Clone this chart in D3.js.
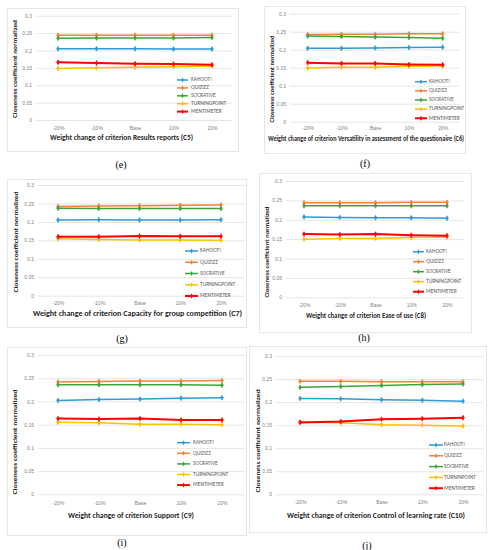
<!DOCTYPE html>
<html>
<head>
<meta charset="utf-8">
<script src="https://cdn.jsdelivr.net/npm/d3@7"></script>
<style>
  body { margin: 0; background: #fff; }
</style>
</head>
<body>
<script>
var categories = ["-20%", "-10%", "Base", "10%", "20%"];
var seriesNames = ["KAHOOT!", "QUIZIZZ", "SOCRATIVE", "TURNINGPOINT", "MENTIMETER"];
var seriesNamesJ = ["KAHOOT!", "QUIZIZZ", "SOCRATIVE", "TURNINPOINT", "MENTIMETER"];
var yTicks = [0, 0.05, 0.1, 0.15, 0.2, 0.25, 0.3];
var yTickLabels = ["0", "0.05", "0.1", "0.15", "0.2", "0.25", "0.3"];

// one row per series: KAHOOT!, QUIZIZZ, SOCRATIVE, TURNINGPOINT, MENTIMETER
var valuesC5 = [
  [0.205, 0.205, 0.205, 0.204, 0.204],
  [0.244, 0.244, 0.244, 0.244, 0.244],
  [0.235, 0.236, 0.236, 0.236, 0.237],
  [0.148, 0.150, 0.152, 0.153, 0.155],
  [0.166, 0.164, 0.162, 0.161, 0.159]
];
var valuesC6 = [
  [0.204, 0.204, 0.205, 0.206, 0.207],
  [0.242, 0.243, 0.243, 0.244, 0.244],
  [0.238, 0.237, 0.235, 0.234, 0.232],
  [0.149, 0.151, 0.151, 0.154, 0.155],
  [0.164, 0.162, 0.162, 0.159, 0.158]
];
var valuesC7 = [
  [0.205, 0.206, 0.205, 0.205, 0.206],
  [0.242, 0.243, 0.244, 0.245, 0.246],
  [0.237, 0.236, 0.236, 0.236, 0.236],
  [0.154, 0.152, 0.151, 0.151, 0.150],
  [0.160, 0.160, 0.162, 0.161, 0.161]
];
var valuesC8 = [
  [0.207, 0.206, 0.205, 0.205, 0.204],
  [0.244, 0.244, 0.244, 0.245, 0.245],
  [0.236, 0.236, 0.236, 0.236, 0.236],
  [0.150, 0.152, 0.152, 0.154, 0.155],
  [0.163, 0.162, 0.163, 0.160, 0.159]
];
var valuesC9 = [
  [0.202, 0.204, 0.205, 0.207, 0.208],
  [0.242, 0.243, 0.244, 0.244, 0.245],
  [0.236, 0.236, 0.236, 0.236, 0.235],
  [0.155, 0.154, 0.151, 0.151, 0.150],
  [0.163, 0.162, 0.163, 0.160, 0.160]
];
var valuesC10 = [
  [0.208, 0.207, 0.205, 0.204, 0.202],
  [0.245, 0.245, 0.244, 0.244, 0.244],
  [0.232, 0.234, 0.236, 0.238, 0.239],
  [0.157, 0.155, 0.151, 0.150, 0.148],
  [0.156, 0.158, 0.163, 0.164, 0.166]
];

var xTitles = [
  "Weight change of criterion  Results reports (C5)",
  "Weight change of criterion  Versatility  in assessment of the questionaire (C6)",
  "Weight change of criterion  Capacity for group competition (C7)",
  "Weight change of criterion  Ease of use (C8)",
  "Weight change of criterion  Support (C9)",
  "Weight change of criterion  Control of learning rate (C10)"
];
var captions = ["(e)", "(f)", "(g)", "(h)", "(i)", "(j)"];
var yTitle = "Closeness coefficient normalized";

var colors = ["#2e9bd6", "#f4823c", "#3ca53a", "#ffc000", "#ff0000"];

var w = 492, h = 550;

// layout of each panel (pixel positions)
var layout = [
  {box: [7, 8, 238, 151], pts: [58, 212], grid: [36, 232], y0: 120, y3: 15.7, xl: 128, xt: 138, xtc: 121.5, xtw: 143,
   yt: [15, 69, 98], leg: [177, 188, 191, 80, 7.9], cap: [121, 168], names: seriesNames, values: valuesC5},
  {box: [264, 6, 465, 153], pts: [307.7, 442.7], grid: [290, 460], y0: 121.7, y3: 13.7, xl: 128, xt: 139.5, xtc: 366, xtw: 196,
   yt: [272, 79, 87], leg: [415, 427, 429, 81.7, 9.15], cap: [365, 167], names: seriesNames, values: valuesC6},
  {box: [7, 179, 246, 327], pts: [58, 221], grid: [38, 245], y0: 295.7, y3: 185, xl: 303, xt: 314.5, xtc: 137.5, xtw: 209,
   yt: [16, 242, 101], leg: [185, 198, 200, 251, 11.25], cap: [122, 342], names: seriesNames, values: valuesC7},
  {box: [259, 173, 471, 332], pts: [304, 447], grid: [286, 464], y0: 297.3, y3: 181, xl: 305, xt: 316.5, xtc: 366, xtw: 120,
   yt: [267, 252, 91], leg: [413, 424, 426, 251.7, 10], cap: [364, 341], names: seriesNames, values: valuesC8},
  {box: [7, 347, 246, 535], pts: [58, 222], grid: [38, 245], y0: 494.3, y3: 355, xl: 503, xt: 516, xtc: 131, xtw: 126,
   yt: [15, 442, 105], leg: [177, 190, 193, 442.7, 10.6], cap: [122, 546], names: seriesNames, values: valuesC9},
  {box: [249, 346, 486, 532], pts: [300, 463], grid: [276, 483], y0: 494.3, y3: 356, xl: 502, xt: 516, xtc: 376, xtw: 178,
   yt: [258, 441, 103], leg: [429, 443, 444, 445, 10.8], cap: [367, 549], names: seriesNamesJ, values: valuesC10}
];

var svg = d3.select("body")
    .append("svg")
    .attr("width", w)
    .attr("height", h)
    .style("font-family", "Calibri, 'Liberation Sans', Arial, sans-serif");

layout.forEach(function(p, k) {
  var g = svg.append("g").attr("class", "panel");

  // chart frame
  g.append("rect")
      .attr("x", p.box[0] + 0.5)
      .attr("y", p.box[1] + 0.5)
      .attr("width", p.box[2] - p.box[0])
      .attr("height", p.box[3] - p.box[1])
      .attr("fill", "#fff")
      .attr("stroke", "#e6e6e6")
      .attr("stroke-width", 1);

  var x = d3.scalePoint()
      .domain(categories)
      .range(p.pts);

  var y = d3.scaleLinear()
      .domain([0, 0.3])
      .range([p.y0, p.y3]);

  // y axis with gridlines
  var yAxis = g.append("g")
      .attr("transform", "translate(" + p.grid[0] + ",0)")
      .call(d3.axisLeft(y)
        .tickValues(yTicks)
        .tickFormat(function(d, i) { return yTickLabels[i]; })
        .tickSize(-(p.grid[1] - p.grid[0]))
        .tickPadding(4));
  yAxis.select(".domain").remove();
  yAxis.selectAll(".tick line").attr("stroke", "#dedede").attr("stroke-width", 0.8);
  yAxis.selectAll(".tick text")
      .attr("fill", "#7f7f7f")
      .style("font-size", "5px");

  // x axis labels
  var xAxis = g.append("g")
      .attr("transform", "translate(0," + (p.xl - 2) + ")")
      .call(d3.axisBottom(x).tickSize(0).tickPadding(0));
  xAxis.select(".domain").remove();
  xAxis.selectAll(".tick text")
      .attr("fill", "#7f7f7f")
      .style("font-size", "5px");

  // axis titles
  g.append("text")
      .attr("x", p.xtc)
      .attr("y", p.xt)
      .attr("text-anchor", "middle")
      .attr("dominant-baseline", "middle")
      .attr("textLength", p.xtw)
      .attr("lengthAdjust", "spacingAndGlyphs")
      .attr("font-weight", "bold")
      .attr("fill", "#262626")
      .style("font-size", "7px")
      .text(xTitles[k]);

  g.append("text")
      .attr("transform", "translate(" + p.yt[0] + "," + p.yt[1] + ") rotate(-90)")
      .attr("text-anchor", "middle")
      .attr("dominant-baseline", "middle")
      .attr("textLength", p.yt[2])
      .attr("lengthAdjust", "spacingAndGlyphs")
      .attr("font-weight", "bold")
      .attr("fill", "#262626")
      .style("font-size", "6.5px")
      .text(yTitle);

  // series lines
  var line = d3.line()
      .x(function(d, i) { return x(categories[i]); })
      .y(function(d) { return y(d); });

  var sym = d3.symbol().type(d3.symbolDiamond).size(7);

  var series = g.selectAll(".series")
      .data(p.values)
      .enter()
      .append("g")
      .attr("class", "series");

  series.append("path")
      .attr("d", line)
      .attr("fill", "none")
      .attr("stroke", function(d, i) { return colors[i]; })
      .attr("stroke-width", function(d, i) { return i === 4 ? 2 : 1.5; });

  series.selectAll(".pt")
      .data(function(d, i) { return d.map(function(v, j) { return {v: v, j: j, s: i}; }); })
      .enter()
      .append("path")
      .attr("class", "pt")
      .attr("d", sym)
      .attr("transform", function(d) { return "translate(" + x(categories[d.j]) + "," + y(d.v) + ")"; })
      .attr("fill", function(d) { return colors[d.s]; })
      .attr("stroke", function(d) { return colors[d.s]; })
      .attr("stroke-width", 0.6);

  // legend
  var leg = g.selectAll(".leg")
      .data(p.names)
      .enter()
      .append("g")
      .attr("class", "leg")
      .attr("transform", function(d, i) { return "translate(0," + (p.leg[3] + i * p.leg[4]) + ")"; });

  leg.append("line")
      .attr("x1", p.leg[0])
      .attr("x2", p.leg[1])
      .attr("stroke", function(d, i) { return colors[i]; })
      .attr("stroke-width", function(d, i) { return i === 4 ? 2 : 1.5; });

  leg.append("path")
      .attr("d", sym)
      .attr("transform", "translate(" + ((p.leg[0] + p.leg[1]) / 2) + ",0)")
      .attr("fill", function(d, i) { return colors[i]; });

  leg.append("text")
      .attr("x", p.leg[2])
      .attr("dominant-baseline", "middle")
      .attr("fill", "#595959")
      .style("font-size", "5.5px")
      .text(function(d) { return d; });

  // caption under the chart
  g.append("text")
      .attr("x", p.cap[0])
      .attr("y", p.cap[1])
      .attr("text-anchor", "middle")
      .attr("fill", "#000")
      .style("font-family", "'Liberation Serif', 'DejaVu Serif', serif")
      .style("font-size", "10px")
      .text(captions[k]);
});
</script>
</body>
</html>
